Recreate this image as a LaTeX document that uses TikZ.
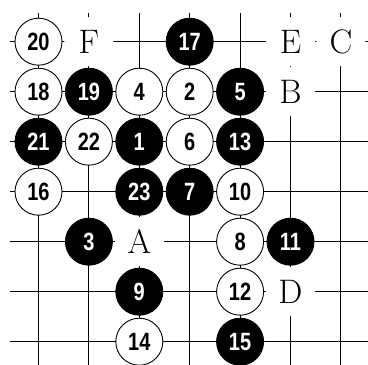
\documentclass[tikz,border=0pt]{standalone}
\usepackage{fontspec}
\newfontfamily\numfont{Liberation Sans}[FakeStretch=0.8]
\tikzset{
  gridline/.style={line width=0.9pt, black},
  stone/.style={circle, minimum size=47pt, inner sep=0pt, draw=black, line width=0.9pt,
    font=\numfont\bfseries\fontsize{25}{25}\selectfont},
  wstone/.style={stone, fill=white, text=black},
  bstone/.style={stone, fill=black, text=white},
  letterlbl/.style={circle, minimum size=49pt, inner sep=0pt, fill=white,
    font=\fontsize{34}{34}\selectfont}
}
\begin{document}
\begin{tikzpicture}[x=1pt,y=-1pt]
\useasboundingbox (0,0) rectangle (368,365);
\clip (0,0) rectangle (368,365);
\foreach \c in {1,...,7}{
  \foreach \r in {1,...,7}{
    \coordinate (g-\c-\r) at ({38.5+50.4*(\c-1)},{41.7+50*(\r-1)});
  }
}
\foreach \r in {0,...,6}{
  \draw[gridline] (10,{41.7+50*\r}) -- (380,{41.7+50*\r});
}
\foreach \c in {0,...,6}{
  \draw[gridline] ({38.5+50.4*\c},13) -- ({38.5+50.4*\c},380);
}
% row 1
\node[wstone] (s20) at (g-1-1) {20};
\node[letterlbl] (lF) at (g-2-1) {F};
\node[bstone] (s17) at (g-4-1) {17};
\node[letterlbl] (lE) at (g-6-1) {E};
\node[letterlbl] (lC) at (g-7-1) {C};
% row 2
\node[wstone] (s18) at (g-1-2) {18};
\node[bstone] (s19) at (g-2-2) {19};
\node[wstone] (s4) at (g-3-2) {4};
\node[wstone] (s2) at (g-4-2) {2};
\node[bstone] (s5) at (g-5-2) {5};
\node[letterlbl] (lB) at (g-6-2) {B};
% row 3
\node[bstone] (s21) at (g-1-3) {21};
\node[wstone] (s22) at (g-2-3) {22};
\node[bstone] (s1) at (g-3-3) {1};
\node[wstone] (s6) at (g-4-3) {6};
\node[bstone] (s13) at (g-5-3) {13};
% row 4
\node[wstone] (s16) at (g-1-4) {16};
\node[bstone] (s23) at (g-3-4) {23};
\node[bstone] (s7) at (g-4-4) {7};
\node[wstone] (s10) at (g-5-4) {10};
% row 5
\node[bstone] (s3) at (g-2-5) {3};
\node[letterlbl] (lA) at (g-3-5) {A};
\node[wstone] (s8) at (g-5-5) {8};
\node[bstone] (s11) at (g-6-5) {11};
% row 6
\node[bstone] (s9) at (g-3-6) {9};
\node[wstone] (s12) at (g-5-6) {12};
\node[letterlbl] (lD) at (g-6-6) {D};
% row 7
\node[wstone] (s14) at (g-3-7) {14};
\node[bstone] (s15) at (g-5-7) {15};
\end{tikzpicture}
\end{document}
